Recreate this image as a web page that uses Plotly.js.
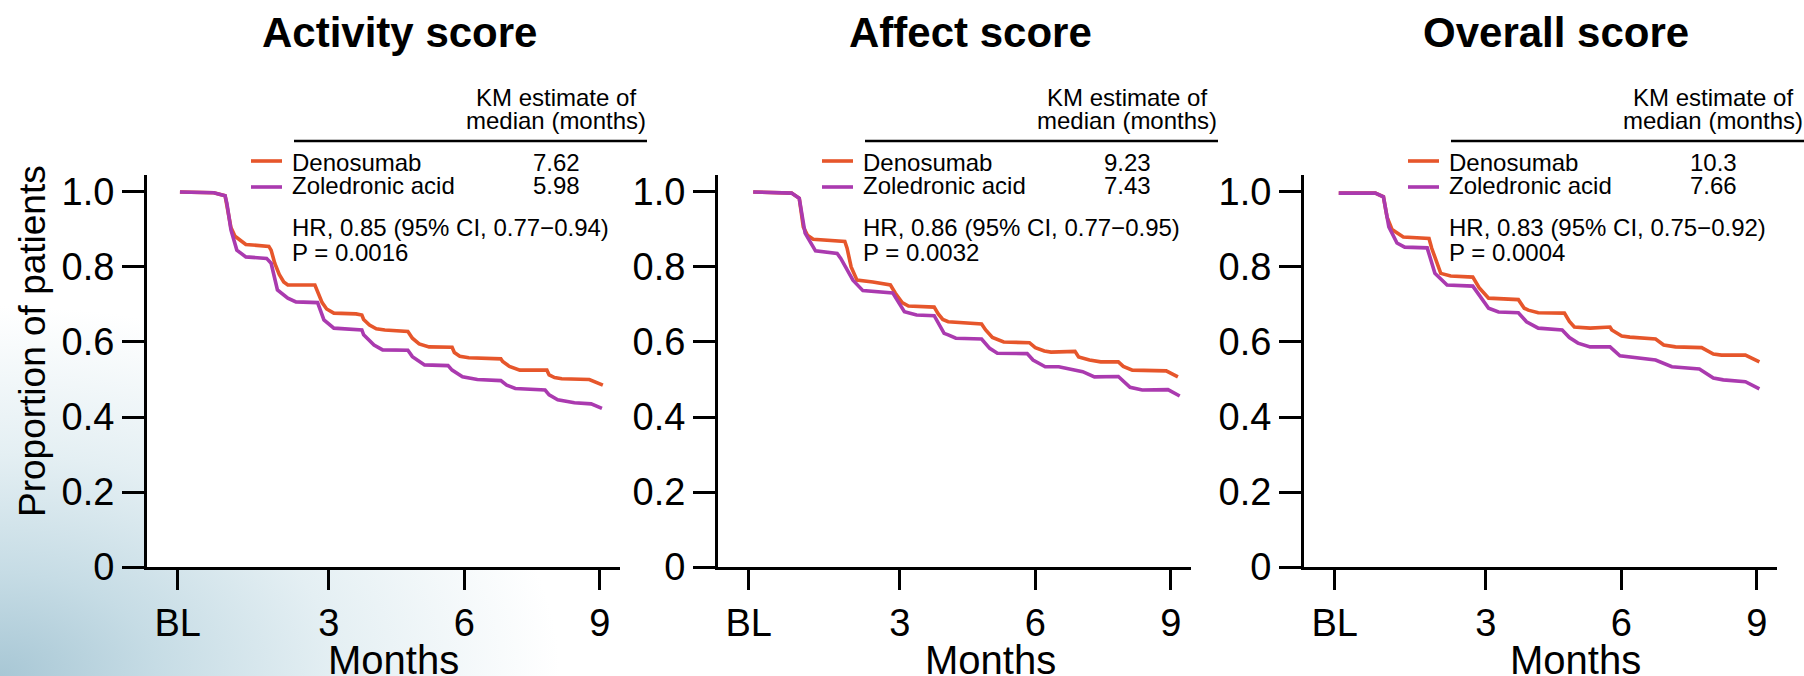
<!DOCTYPE html>
<html>
<head>
<meta charset="utf-8">
<script src="https://cdn.plot.ly/plotly-3.0.1.min.js"></script>
<style>
  html, body { margin: 0; padding: 0; }
  body {
    width: 1804px; height: 676px; overflow: hidden;
    background: radial-gradient(ellipse 560px 370px at 0px 676px, #a8c7d5 0%, #c6dce5 28%, #e4eff3 60%, #ffffff 100%);
  }
  #chart { width: 1804px; height: 676px; }
</style>
</head>
<body>
<div id="chart"></div>
<script>
// ---------------- data ----------------
const panelTitles = ['Activity score', 'Affect score', 'Overall score'];
const seriesNames = ['Denosumab', 'Zoledronic acid'];
const xTickText = ['BL', '3', '6', '9'];
const xTickMonths = [3, 6, 9];
const yTickVals = [0, 0.2, 0.4, 0.6, 0.8, 1.0];
const yTickText = ['0', '0.2', '0.4', '0.6', '0.8', '1.0'];
const medianDeno = ['7.62', '9.23', '10.3'];
const medianZol = ['5.98', '7.43', '7.66'];
const hrText = ['HR, 0.85 (95% CI, 0.77\u22120.94)', 'HR, 0.86 (95% CI, 0.77\u22120.95)', 'HR, 0.83 (95% CI, 0.75\u22120.92)'];
const pText = ['P = 0.0016', 'P = 0.0032', 'P = 0.0004'];

// Activity score
const activityDenoMonths = [-0.3, 0.45, 0.7, 0.76, 0.83, 0.92, 1.02, 1.16, 1.67, 1.72, 1.8, 1.9, 2.0, 2.09, 2.69, 2.75, 2.85, 2.95, 3.11, 3.6, 3.73, 3.77, 3.9, 4.05, 4.24, 4.75, 4.85, 5.0, 5.22, 5.73, 5.78, 5.9, 6.1, 6.81, 6.85, 7.0, 7.23, 7.83, 7.88, 8.0, 8.16, 8.77, 9.07];
const activityDenoProp   = [1.0, 0.998, 0.99, 0.95, 0.905, 0.882, 0.872, 0.86, 0.855, 0.845, 0.81, 0.78, 0.76, 0.752, 0.752, 0.735, 0.705, 0.688, 0.677, 0.675, 0.672, 0.66, 0.645, 0.635, 0.632, 0.628, 0.61, 0.595, 0.587, 0.586, 0.572, 0.562, 0.558, 0.555, 0.548, 0.535, 0.525, 0.525, 0.512, 0.505, 0.502, 0.5, 0.485];
const activityZolMonths  = [-0.3, 0.45, 0.7, 0.74, 0.83, 0.96, 1.16, 1.62, 1.72, 1.86, 2.09, 2.27, 2.75, 2.89, 3.11, 3.73, 3.77, 4.0, 4.19, 4.75, 4.85, 5.12, 5.64, 5.73, 5.96, 6.29, 6.81, 6.94, 7.13, 7.79, 7.88, 8.07, 8.44, 8.81, 9.05];
const activityZolProp    = [1.0, 0.998, 0.99, 0.97, 0.899, 0.845, 0.827, 0.823, 0.81, 0.739, 0.717, 0.707, 0.705, 0.659, 0.637, 0.632, 0.619, 0.592, 0.579, 0.578, 0.561, 0.539, 0.537, 0.525, 0.507, 0.5, 0.497, 0.485, 0.476, 0.472, 0.459, 0.446, 0.438, 0.435, 0.423];

// Affect score
const affectDenoMonths = [-0.25, 0.6, 0.77, 0.82, 0.86, 0.95, 1.08, 1.78, 1.83, 1.92, 2.05, 2.4, 2.79, 2.9, 3.05, 3.19, 3.76, 3.85, 3.95, 4.07, 4.81, 4.9, 5.05, 5.3, 5.87, 6.0, 6.2, 6.35, 6.88, 6.96, 7.2, 7.45, 7.84, 7.95, 8.15, 8.9, 9.16];
const affectDenoProp   = [1.0, 0.997, 0.983, 0.94, 0.907, 0.885, 0.874, 0.868, 0.85, 0.8, 0.765, 0.76, 0.752, 0.73, 0.705, 0.696, 0.693, 0.675, 0.66, 0.654, 0.648, 0.632, 0.612, 0.6, 0.598, 0.585, 0.576, 0.573, 0.575, 0.56, 0.552, 0.547, 0.547, 0.535, 0.525, 0.523, 0.507];
const affectZolMonths  = [-0.25, 0.6, 0.77, 0.9, 1.13, 1.61, 1.69, 1.96, 2.18, 2.84, 3.1, 3.37, 3.76, 3.98, 4.07, 4.24, 4.81, 4.99, 5.16, 5.82, 5.95, 6.22, 6.52, 7.05, 7.31, 7.84, 8.1, 8.37, 8.94, 9.2];
const affectZolProp    = [1.0, 0.997, 0.983, 0.89, 0.843, 0.836, 0.823, 0.765, 0.737, 0.731, 0.681, 0.672, 0.67, 0.623, 0.619, 0.61, 0.608, 0.583, 0.57, 0.569, 0.552, 0.534, 0.534, 0.521, 0.507, 0.508, 0.479, 0.472, 0.473, 0.456];

// Overall score
const overallDenoMonths = [-0.26, 0.55, 0.73, 0.81, 0.92, 1.03, 1.17, 1.74, 1.8, 2.0, 2.22, 2.71, 2.85, 3.06, 3.72, 3.85, 3.94, 4.16, 4.74, 4.85, 4.96, 5.31, 5.75, 5.79, 6.01, 6.19, 6.76, 6.94, 7.2, 7.78, 8.04, 8.22, 8.75, 9.06];
const overallDenoProp   = [0.997, 0.997, 0.987, 0.933, 0.9, 0.89, 0.88, 0.876, 0.85, 0.783, 0.776, 0.773, 0.745, 0.717, 0.713, 0.69, 0.685, 0.678, 0.677, 0.655, 0.64, 0.637, 0.64, 0.632, 0.616, 0.613, 0.608, 0.592, 0.587, 0.585, 0.568, 0.565, 0.565, 0.547];
const overallZolMonths  = [-0.26, 0.55, 0.73, 0.85, 1.03, 1.2, 1.7, 1.87, 2.14, 2.71, 3.06, 3.28, 3.72, 3.9, 4.16, 4.69, 4.85, 5.04, 5.31, 5.75, 5.97, 6.3, 6.76, 7.12, 7.73, 8.04, 8.26, 8.75, 9.06];
const overallZolProp    = [0.997, 0.997, 0.987, 0.907, 0.864, 0.853, 0.851, 0.783, 0.752, 0.749, 0.69, 0.68, 0.678, 0.654, 0.637, 0.632, 0.612, 0.597, 0.587, 0.587, 0.563, 0.558, 0.552, 0.534, 0.528, 0.504, 0.499, 0.494, 0.475];

// ---------------- styling / layout ----------------
const W = 1804, H = 676;
const FONT = 'Liberation Sans, Arial, Helvetica, sans-serif';
const ORANGE = '#E6562B';
const PURPLE = '#AA3AAF';
const BL_POS = -0.35;               // axis position of the baseline tick
const X_RANGE = [-1.03, 9.45];
const Y_RANGE = [0, 1.0453];
const axisLeftPx = [147, 718, 1304];  // y-axis line positions (px)
const PANEL_W = 473;
const PLOT_TOP = 175, PLOT_BOTTOM = 567;

const fx = p => p / W;
const fy = p => 1 - p / H;

const monthsData = [
  [activityDenoMonths, activityDenoProp, activityZolMonths, activityZolProp],
  [affectDenoMonths, affectDenoProp, affectZolMonths, affectZolProp],
  [overallDenoMonths, overallDenoProp, overallZolMonths, overallZolProp]
];

const traces = [];
const layout = {
  width: W, height: H,
  margin: {l: 0, r: 0, t: 0, b: 0, pad: 0},
  paper_bgcolor: 'rgba(0,0,0,0)',
  plot_bgcolor: '#ffffff',
  showlegend: false,
  font: {family: FONT, color: '#000'},
  annotations: [],
  shapes: []
};

function ann(text, xpx, ypx, size, xanchor, extra) {
  return Object.assign({
    text: text, xref: 'paper', yref: 'paper', x: fx(xpx), y: fy(ypx),
    xanchor: xanchor, yanchor: 'middle', showarrow: false,
    font: {family: FONT, size: size, color: '#000'}, borderpad: 0
  }, extra || {});
}

const monthsTitleX = [393, 990, 1575];

for (let i = 0; i < 3; i++) {
  const sfx = i === 0 ? '' : String(i + 1);
  const xa = 'x' + sfx, ya = 'y' + sfx;
  const d = monthsData[i];
  traces.push({x: d[0], y: d[1], xaxis: xa, yaxis: ya, type: 'scatter', mode: 'lines',
               name: seriesNames[0], line: {color: ORANGE, width: 3.6, shape: 'linear'}});
  traces.push({x: d[2], y: d[3], xaxis: xa, yaxis: ya, type: 'scatter', mode: 'lines',
               name: seriesNames[1], line: {color: PURPLE, width: 3.6, shape: 'linear'}});

  const L = axisLeftPx[i];
  layout['xaxis' + sfx] = {
    domain: [fx(L), fx(L + PANEL_W)], anchor: ya, range: X_RANGE,
    tickmode: 'array', tickvals: [BL_POS].concat(xTickMonths), ticktext: xTickText,
    showline: true, linecolor: '#000', linewidth: 3, mirror: false,
    ticks: 'outside', ticklen: 20, tickwidth: 3, tickcolor: '#000',
    showgrid: false, zeroline: false, fixedrange: true,
    tickfont: {family: FONT, size: 38, color: '#000'}
  };
  layout['yaxis' + sfx] = {
    domain: [fy(PLOT_BOTTOM), fy(PLOT_TOP)], anchor: xa, range: Y_RANGE,
    tickmode: 'array', tickvals: yTickVals, ticktext: yTickText,
    showline: true, linecolor: '#000', linewidth: 3,
    ticks: 'outside', ticklen: 22, tickwidth: 3, tickcolor: '#000',
    showgrid: false, zeroline: false, fixedrange: true,
    tickfont: {family: FONT, size: 38, color: '#000'}
  };

  // panel title
  layout.annotations.push(ann('<b>' + panelTitles[i] + '</b>', L + 252, 32, 42, 'center'));
  // x axis title
  layout.annotations.push(ann('Months', monthsTitleX[i], 660, 40, 'center'));

  // KM legend block
  const cx = L + 409;
  layout.annotations.push(ann('KM estimate of', cx, 98, 24, 'center'));
  layout.annotations.push(ann('median (months)', cx, 121, 24, 'center'));
  layout.shapes.push({type: 'line', xref: 'paper', yref: 'paper',
    x0: fx(L + 147), x1: fx(L + 500), y0: fy(141), y1: fy(141),
    line: {color: '#000', width: 2.5}});
  layout.shapes.push({type: 'line', xref: 'paper', yref: 'paper',
    x0: fx(L + 104), x1: fx(L + 135), y0: fy(161), y1: fy(161),
    line: {color: ORANGE, width: 3.6}});
  layout.shapes.push({type: 'line', xref: 'paper', yref: 'paper',
    x0: fx(L + 104), x1: fx(L + 135), y0: fy(187), y1: fy(187),
    line: {color: PURPLE, width: 3.6}});
  layout.annotations.push(ann(seriesNames[0], L + 144, 162, 24, 'left'));
  layout.annotations.push(ann(seriesNames[1], L + 144, 186, 24, 'left'));
  layout.annotations.push(ann(medianDeno[i], cx, 162, 24, 'center'));
  layout.annotations.push(ann(medianZol[i], cx, 186, 24, 'center'));
  layout.annotations.push(ann(hrText[i], L + 144, 227, 24, 'left'));
  layout.annotations.push(ann(pText[i], L + 144, 252, 24, 'left'));
}

// y axis title (first panel only)
layout.annotations.push(ann('Proportion of patients', 32, 341, 37, 'center', {textangle: -90}));

Plotly.newPlot('chart', traces, layout, {displayModeBar: false, staticPlot: true});
</script>
</body>
</html>
